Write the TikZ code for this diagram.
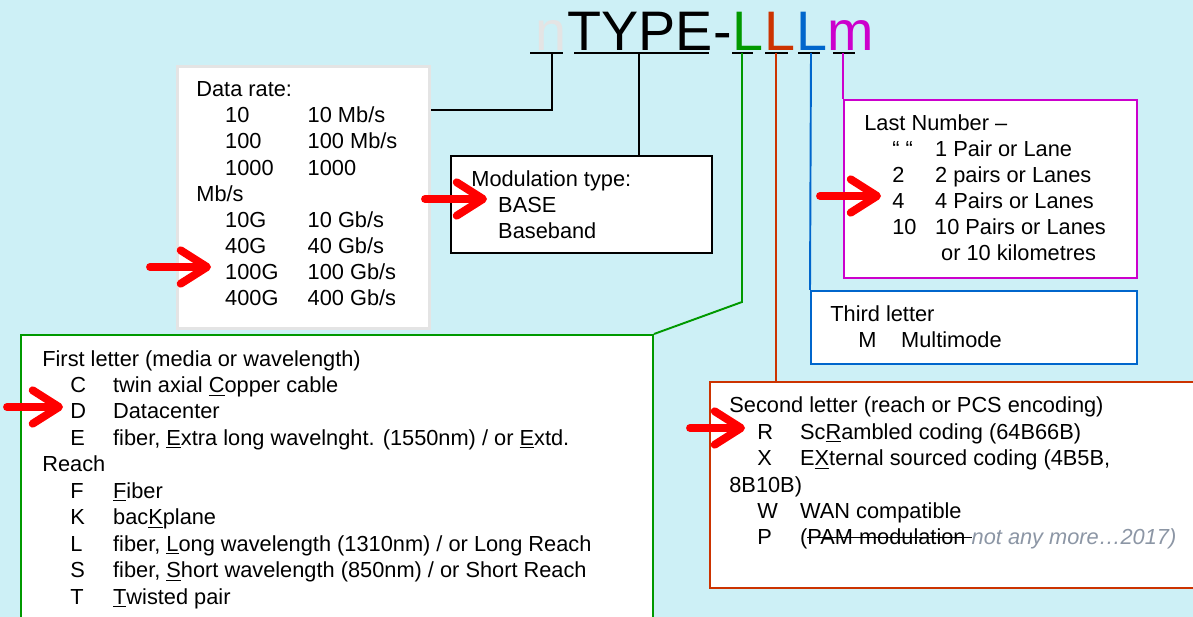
\documentclass[tikz,border=0pt]{standalone}
\usepackage{fontspec}
\setmainfont{Liberation Sans}
\usetikzlibrary{arrows.meta}

\definecolor{bgcyan}{RGB}{205,240,246}
\definecolor{lgreen}{RGB}{0,153,0}
\definecolor{lorange}{RGB}{204,51,0}
\definecolor{lblue}{RGB}{0,102,204}
\definecolor{lmag}{RGB}{204,0,204}
\definecolor{lgrey}{RGB}{228,228,228}
\definecolor{notegrey}{RGB}{140,150,165}

\newcommand{\ratrow}[2]{\hspace*{16.4pt}\makebox[47pt][l]{#1}#2}
\newcommand{\letrow}[2]{\hspace*{15.9pt}\makebox[24.4pt][l]{#1}#2}
\newsavebox{\strikebox}
\newcommand{\strikeout}[1]{\sbox{\strikebox}{#1}\rlap{\rule[0.3em]{\wd\strikebox}{0.07em}}\usebox{\strikebox}}

\tikzset{
    box/.style={draw, fill=white, anchor=north west, inner sep=0pt},
    txt/.style={anchor=base west, inner sep=0pt, align=left, font=\fontsize{12.4}{14.9}\selectfont},
    ttl/.style={anchor=base west, inner sep=0pt, font=\fontsize{31.7}{36}\selectfont},
    link/.style={line width=1.1pt},
    redarrow/.style={red, line width=4.5pt, line cap=round, -{Straight Barb[length=15pt,width=19pt,round]}}
}

\begin{document}
\begin{tikzpicture}[x=0.02cm, y=-0.02cm]
        \fill[bgcyan] (0,0) rectangle (1193,617);
        \useasboundingbox (0,0) rectangle (1193,617);
        \clip (0,0) rectangle (1193,617);

        \node[ttl, text=lgrey] (tn) at (535.5,51) {n};
        \node[ttl] (ttype) at (tn.base east) {TYPE};
        \node[ttl] (tdash) at (ttype.base east) {-};
        \node[ttl, text=lgreen] (tl1) at (tdash.base east) {L};
        \node[ttl, text=lorange] (tl2) at (tl1.base east) {L};
        \node[ttl, text=lblue] (tl3) at (tl2.base east) {L};
        \node[ttl, text=lmag] (tm) at (tl3.base east) {m};

        \foreach \a/\b in {530/563, 574/709, 732/753, 765/788, 798/820, 833/855}
            \draw[line width=1pt] (\a,53) -- (\b,53);

        \coordinate (nTick) at (552,53);
        \coordinate (typeTick) at (639,53);
        \coordinate (l1Tick) at (742,53);
        \coordinate (l2Tick) at (776,53);
        \coordinate (l3Tick) at (811,53);
        \coordinate (mTick) at (843,53);

        \node[box, draw=lgrey, line width=1.6pt, minimum width=5.04cm, minimum height=5.24cm] (rate) at (176,65) {};
        \node[box, line width=1.2pt, minimum width=5.22cm, minimum height=1.94cm] (mod) at (450,155) {};
        \node[box, draw=lmag, line width=1.3pt, minimum width=5.86cm, minimum height=3.56cm] (last) at (843,99) {};
        \node[box, draw=lblue, line width=1.3pt, minimum width=6.52cm, minimum height=1.46cm] (third) at (810,290) {};
        \node[box, draw=lgreen, line width=1.2pt, minimum width=12.64cm, minimum height=6.2cm] (media) at (20,334) {};
        \node[box, draw=lorange, line width=1.3pt, minimum width=10cm, minimum height=4.12cm] (reach) at (709,381) {};

        \draw[link] (nTick) |- ([yshift=-0.9cm]rate.north east);
        \draw[link] (typeTick) -- (typeTick |- mod.north);
        \draw[link, lgreen] (l1Tick) -- ++(0,249) -- (media.north east);
        \draw[link, lorange] (l2Tick) -- (l2Tick |- reach.north);
        \draw[link, lblue] (l3Tick) -- (third.north west);
        \draw[link, lmag] (mTick) -- (mTick |- last.north);

        \node[txt] (ratetxt) at (196,306) {Data rate:\\ \ratrow{10}{10 Mb/s}\\ \ratrow{100}{100 Mb/s}\\ \ratrow{1000}{1000}\\ Mb/s\\ \ratrow{10G}{10 Gb/s}\\ \ratrow{40G}{40 Gb/s}\\ \ratrow{100G}{100 Gb/s}\\ \ratrow{400G}{400 Gb/s}};
        \node[txt] (modtxt) at (471,239) {Modulation type:\\ \hspace*{15.3pt}BASE\\ \hspace*{15.3pt}Baseband};
        \node[txt] (lasttxt) at (864,261) {Last Number –\\ \letrow{“ “}{1 Pair or Lane}\\ \letrow{2}{2 pairs or Lanes}\\ \letrow{4}{4 Pairs or Lanes}\\ \letrow{10}{10 Pairs or Lanes}\\ \hspace*{43.7pt}or 10 kilometres};
        \node[txt] (thirdtxt) at (830,348) {Third letter\\ \letrow{M}{Multimode}};
        \node[txt, font=\fontsize{12.4}{15.05}\selectfont] (mediatxt) at (42,604) {First letter (media or wavelength)\\ \letrow{C}{twin axial \underline{C}opper cable}\\ \letrow{D}{Datacenter}\\ \letrow{E}{fiber, \underline{E}xtra long wavelnght. (1550nm) / or \underline{E}xtd.}\\ Reach\\ \letrow{F}{\underline{F}iber}\\ \letrow{K}{bac\underline{K}plane}\\ \letrow{L}{fiber, \underline{L}ong wavelength (1310nm) / or Long Reach}\\ \letrow{S}{fiber, \underline{S}hort wavelength (850nm) / or Short Reach}\\ \letrow{T}{\underline{T}wisted pair}};
        \node[txt, font=\fontsize{12.4}{15.05}\selectfont] (reachtxt) at (729,545) {Second letter (reach or PCS encoding)\\ \letrow{R}{Sc\underline{R}ambled coding (64B66B)}\\ \letrow{X}{E\underline{X}ternal sourced coding (4B5B,}\\ 8B10B)\\ \letrow{W}{WAN compatible}\\ \letrow{P}{(\strikeout{PAM modulation\ }{\color{notegrey}\itshape not any more…2017)}}};

        \draw[redarrow] (150,267) -- (211,267);
        \draw[redarrow] (425,199) -- (487,199);
        \draw[redarrow] (820,196) -- (881,196);
        \draw[redarrow] (7,407) -- (63,407);
        \draw[redarrow] (690,428) -- (745,428);
\end{tikzpicture}
\end{document}
